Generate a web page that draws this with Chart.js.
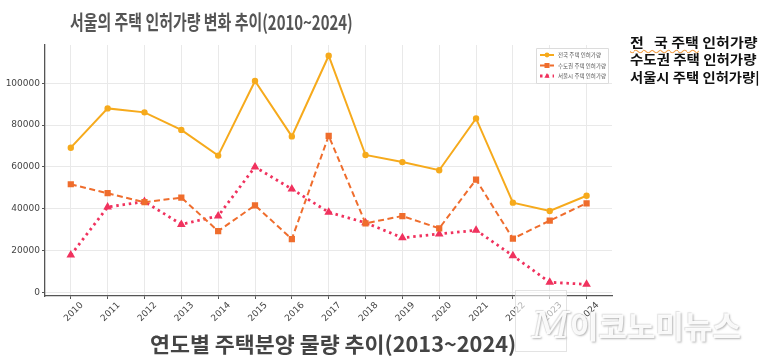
<!DOCTYPE html>
<html>
<head>
<meta charset="utf-8">
<script src="https://cdn.jsdelivr.net/npm/chart.js@4.4.1/dist/chart.umd.min.js"></script>
<style>
  body { margin: 0; background: #fff; }
  #wrap { position: relative; width: 760px; height: 363px; overflow: hidden; background: #fff; }
  canvas { position: absolute; left: 0; top: 0; }
  .txt { position: absolute; white-space: nowrap; font-family: "Noto Sans CJK KR", "Noto Sans", sans-serif; font-weight: bold; transform-origin: 0 50%; line-height: 1; }
  #title1 { color: #555; font-size: 20px; }
  #title2 { color: #444; font-size: 21px; }
  .side { color: #111; font-size: 13px; }
  .squig { text-decoration: underline wavy #f2a04a; text-decoration-thickness: 1px; text-underline-offset: 2px; }
  #shade { position: absolute; left: 515px; top: 290px; width: 50px; height: 60px; background: rgba(255,255,255,0.6); border: 1px solid rgba(200,200,200,0.5); }
  #mark { position: absolute; left: 532px; top: 307px; font-family: "Noto Sans CJK KR", sans-serif; font-weight: bold; font-size: 31px; color: rgba(255,255,255,0.92); text-shadow: 1px 1px 2px rgba(120,120,120,0.55), -1px -1px 1px rgba(160,160,160,0.3); white-space: nowrap; line-height: 1; }
  #mark i { font-family: "DejaVu Serif", serif; font-weight: normal; font-size: 37px; }
</style>
</head>
<body>
<div id="wrap">
  <canvas id="chart" width="760" height="363"></canvas>
  <div id="title1" class="txt">서울의 주택 인허가량 변화 추이(2010~2024)</div>
  <div id="title2" class="txt">연도별 주택분양 물량 추이(2013~2024)</div>
  <div id="side1" class="txt side"><span class="squig">전&nbsp;&nbsp;&nbsp;국 주택</span> 인허가량</div>
  <div id="side2" class="txt side">수도권 주택 인허가량</div>
  <div id="side3" class="txt side">서울시 주택 인허가량|</div>
  <div id="shade"></div>
  <div id="mark"><i>M</i>이코노미뉴스</div>
</div>
<script>
const years = [2010, 2011, 2012, 2013, 2014, 2015, 2016, 2017, 2018, 2019, 2020, 2021, 2022, 2023, 2024];
const nationwide = [69200, 88000, 86100, 77700, 65400, 101100, 74600, 113200, 65700, 62300, 58400, 83200, 42900, 38900, 46200];
const capitalArea = [51700, 47400, 43100, 45300, 29300, 41600, 25500, 74900, 33000, 36500, 30600, 53900, 25700, 34300, 42600];
const seoul = [17800, 40800, 43400, 32500, 36500, 60000, 49400, 38300, 33300, 26100, 27900, 29700, 17500, 4800, 3800];
const seriesNames = ["전국 주택 인허가량", "수도권 주택 인허가량", "서울시 주택 인허가량"];
const yTicks = [0, 20000, 40000, 60000, 80000, 100000];

const toPoints = (vals) => vals.map((v, i) => ({ x: years[i], y: v }));

// places a text block centred or left-aligned and squeezes it to a target width
const fitText = (id, x, y, w, align) => {
    const el = document.getElementById(id);
    const s = w / el.offsetWidth;
    const h = el.offsetHeight;
    const left = align === "center" ? x - w / 2 : x;
    el.style.left = left + "px";
    el.style.top = (y - h / 2) + "px";
    el.style.transform = "scaleX(" + s + ")";
};
fitText("title1", 211, 22, 283, "center");
fitText("title2", 333, 343, 366, "center");
fitText("side1", 630, 41, 127, "left");
fitText("side2", 630, 58, 127, "left");
fitText("side3", 630, 76, 129, "left");

const boxLegend = {
    id: "boxLegend",
    afterDatasetsDraw(chart) {
        const ctx = chart.ctx;
        const x0 = 536, y0 = 48, w = 72, h = 35;
        ctx.save();
        ctx.fillStyle = "rgba(255,255,255,0.85)";
        ctx.strokeStyle = "#dcdcdc";
        ctx.lineWidth = 1;
        ctx.beginPath();
        ctx.rect(x0 + 0.5, y0 + 0.5, w, h);
        ctx.fill();
        ctx.stroke();
        chart.data.datasets.forEach((ds, i) => {
            const y = y0 + 7 + i * 10.5;
            ctx.strokeStyle = ds.borderColor;
            ctx.lineWidth = ds.borderWidth;
            ctx.setLineDash(ds.borderDash || []);
            ctx.beginPath();
            ctx.moveTo(x0 + 4, y);
            ctx.lineTo(x0 + 18, y);
            ctx.stroke();
            ctx.setLineDash([]);
            ctx.fillStyle = ds.pointBackgroundColor;
            ctx.beginPath();
            const cx = x0 + 11;
            if (ds.pointStyle === "rect") ctx.rect(cx - 2.5, y - 2.5, 5, 5);
            else if (ds.pointStyle === "triangle") { ctx.moveTo(cx, y - 3); ctx.lineTo(cx + 2.6, y + 1.8); ctx.lineTo(cx - 2.6, y + 1.8); ctx.closePath(); }
            else ctx.arc(cx, y, 2.4, 0, Math.PI * 2);
            ctx.fill();
            ctx.fillStyle = "#555";
            ctx.font = "5.5px 'Noto Sans CJK KR'";
            ctx.textBaseline = "middle";
            ctx.fillText(ds.label, x0 + 22, y);
        });
        ctx.restore();
    },
};

const ctx = document.getElementById("chart").getContext("2d");
new Chart(ctx, {
    type: "line",
    data: {
        datasets: [
            {
                label: seriesNames[0],
                data: toPoints(nationwide),
                borderColor: "#f6aa1c",
                pointBackgroundColor: "#f6aa1c",
                pointBorderColor: "#f6aa1c",
                borderWidth: 2,
                pointStyle: "circle",
                pointRadius: 2.2,
            },
            {
                label: seriesNames[1],
                data: toPoints(capitalArea),
                borderColor: "#ef6d2d",
                pointBackgroundColor: "#ef6d2d",
                pointBorderColor: "#ef6d2d",
                borderWidth: 2,
                borderDash: [6, 3.5],
                pointStyle: "rect",
                pointRadius: 3,
            },
            {
                label: seriesNames[2],
                data: toPoints(seoul),
                borderColor: "#f0325e",
                pointBackgroundColor: "#f0325e",
                pointBorderColor: "#f0325e",
                borderWidth: 2.8,
                borderDash: [2.5, 3.8],
                pointStyle: "triangle",
                pointRadius: 2.2,
            },
        ],
    },
    options: {
        responsive: false,
        animation: false,
        layout: { padding: { left: 0, top: 45, right: 148, bottom: 0 } },
        plugins: { legend: { display: false }, title: { display: false }, tooltip: { enabled: false } },
        elements: { line: { tension: 0 }, point: { borderWidth: 0 } },
        scales: {
            x: {
                type: "linear",
                min: 2009.3,
                max: 2024.69,
                afterBuildTicks: (axis) => { axis.ticks = years.map((v) => ({ value: v })); },
                afterFit: (axis) => { axis.height = 67; },
                grid: { color: "#e9e9e9", tickLength: 3, tickColor: "#555" },
                border: { color: "#555", width: 1.3 },
                ticks: {
                    callback: (v) => String(v),
                    maxRotation: 45,
                    minRotation: 45,
                    labelOffset: 11,
                    padding: 1,
                    color: "#444",
                    font: { family: "DejaVu Sans", size: 9 },
                },
            },
            y: {
                min: -1770,
                max: 118330,
                afterBuildTicks: (axis) => { axis.ticks = yTicks.map((v) => ({ value: v })); },
                afterFit: (axis) => { axis.width = 45; },
                grid: { color: "#e9e9e9", tickLength: 3, tickColor: "#555" },
                border: { color: "#555", width: 1.3 },
                ticks: {
                    callback: (v) => String(v),
                    padding: 2,
                    color: "#444",
                    font: { family: "DejaVu Sans", size: 9 },
                },
            },
        },
    },
    plugins: [boxLegend],
});
</script>
</body>
</html>
